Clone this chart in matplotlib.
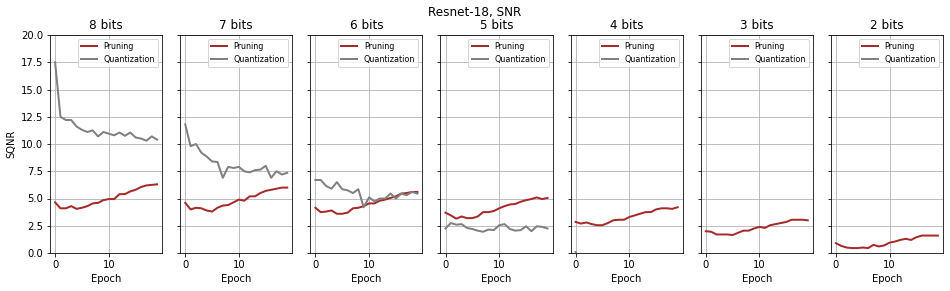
import numpy as np
import matplotlib
matplotlib.use("Agg")
import matplotlib.pyplot as plt

# =========================
# Data
# =========================
bits = ["8 bits", "7 bits", "6 bits", "5 bits", "4 bits", "3 bits", "2 bits"]
epochs = np.arange(20)

pruning_8 = [4.65, 4.1, 4.1, 4.3, 4.05, 4.15, 4.3, 4.55, 4.6, 4.85,
             4.95, 4.95, 5.4, 5.4, 5.65, 5.8, 6.05, 6.2, 6.25, 6.3]
quant_8 = [17.5, 12.5, 12.2, 12.2, 11.6, 11.3, 11.1, 11.25, 10.7, 11.1,
           10.95, 10.8, 11.05, 10.75, 11.05, 10.6, 10.5, 10.3, 10.7, 10.4]

pruning_7 = [4.6, 4.0, 4.15, 4.1, 3.9, 3.8, 4.15, 4.35, 4.4, 4.65,
             4.9, 4.8, 5.2, 5.2, 5.5, 5.7, 5.8, 5.9, 6.0, 6.0]
quant_7 = [11.8, 9.8, 10.0, 9.2, 8.85, 8.4, 8.35, 6.9, 7.9, 7.8,
           7.9, 7.5, 7.4, 7.6, 7.65, 8.0, 6.9, 7.5, 7.2, 7.35]

pruning_6 = [4.15, 3.75, 3.8, 3.9, 3.6, 3.6, 3.7, 4.1, 4.15, 4.3,
             4.55, 4.55, 4.8, 4.9, 5.05, 5.2, 5.45, 5.5, 5.6, 5.6]
quant_6 = [6.7, 6.7, 6.15, 5.9, 6.5, 5.85, 5.75, 5.5, 5.85, 4.2,
           5.1, 4.75, 5.0, 5.0, 5.45, 5.0, 5.45, 5.3, 5.6, 5.45]

pruning_5 = [3.7, 3.45, 3.15, 3.35, 3.2, 3.2, 3.35, 3.75, 3.75, 3.85,
             4.1, 4.3, 4.45, 4.5, 4.7, 4.85, 4.95, 5.1, 4.95, 5.05]
quant_5 = [2.25, 2.75, 2.6, 2.65, 2.3, 2.2, 2.05, 1.95, 2.15, 2.1,
           2.55, 2.65, 2.2, 2.05, 2.1, 2.45, 2.0, 2.45, 2.4, 2.25]

pruning_4 = [2.85, 2.7, 2.8, 2.65, 2.55, 2.55, 2.75, 3.0, 3.05, 3.05,
             3.3, 3.45, 3.6, 3.75, 3.75, 4.0, 4.1, 4.1, 4.05, 4.2]
# below zero after the first epoch, so clipped by the shared y-limits
quant_4 = [0.1, -4.0, -4.2, -4.1, -4.3, -4.4, -4.2, -4.5, -4.4, -4.3,
           -4.2, -4.4, -4.3, -4.5, -4.2, -4.3, -4.4, -4.3, -4.2, -4.3]

pruning_3 = [2.0, 1.95, 1.7, 1.7, 1.7, 1.65, 1.85, 2.05, 2.05, 2.25,
             2.4, 2.3, 2.55, 2.65, 2.75, 2.85, 3.05, 3.05, 3.05, 3.0]
quant_3 = [-8.0, -9.0, -9.2, -9.1, -9.3, -9.4, -9.2, -9.5, -9.4, -9.3,
           -9.2, -9.4, -9.3, -9.5, -9.2, -9.3, -9.4, -9.3, -9.2, -9.3]

pruning_2 = [0.9, 0.65, 0.5, 0.45, 0.45, 0.5, 0.45, 0.75, 0.6, 0.7,
             0.95, 1.05, 1.2, 1.3, 1.2, 1.45, 1.6, 1.6, 1.6, 1.6]
quant_2 = [-14.0, -15.0, -15.2, -15.1, -15.3, -15.4, -15.2, -15.5, -15.4, -15.3,
           -15.2, -15.4, -15.3, -15.5, -15.2, -15.3, -15.4, -15.3, -15.2, -15.3]

pruning = [pruning_8, pruning_7, pruning_6, pruning_5, pruning_4, pruning_3, pruning_2]
quant = [quant_8, quant_7, quant_6, quant_5, quant_4, quant_3, quant_2]

# =========================
# Plot
# =========================
fig, axes = plt.subplots(1, 7, sharey=True, figsize=(950 / 72, 291 / 72), dpi=72)
fig.subplots_adjust(left=50 / 950, right=943 / 950, top=1 - 35 / 291,
                    bottom=1 - 253 / 291, wspace=0.16)

for ax, title, p, q in zip(axes, bits, pruning, quant):
    ax.plot(epochs, p, color="brown", linewidth=2, label="Pruning")
    ax.plot(epochs, q, color="gray", linewidth=2, label="Quantization")
    ax.set_title(title)
    ax.set_xlabel("Epoch")
    ax.set_ylim(0, 20)
    ax.set_xlim(-0.95, 19.95)
    ax.set_xticks([0, 10])
    ax.set_yticks(np.arange(0, 20.1, 2.5))
    ax.grid(True)
    ax.legend(loc="upper right", fontsize=8)

axes[0].set_ylabel("SQNR")
fig.suptitle("Resnet-18, SNR", y=0.98)

fig.savefig("out.png", dpi=72)
